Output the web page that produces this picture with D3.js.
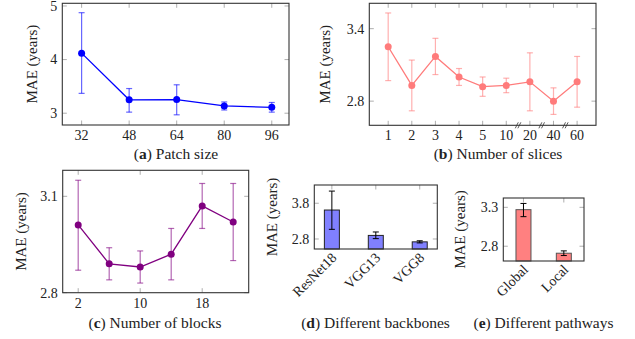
<!DOCTYPE html>
<html>
<head>
<meta charset="utf-8">
<script src="https://cdn.jsdelivr.net/npm/d3@7"></script>
<style>
  body { margin: 0; background: #fff; }
</style>
</head>
<body>
<div id="chart"></div>
<script>
// (a) patch size
const patchSizes = [32, 48, 64, 80, 96];
const patchMae = [4.12, 3.25, 3.255, 3.135, 3.11];
const patchLo = [3.37, 3.02, 2.97, 3.06, 3.02];
const patchHi = [4.875, 3.46, 3.53, 3.21, 3.2];

// (b) number of slices (categorical axis)
const sliceLabels = ['1', '2', '3', '4', '5', '10', '20', '40', '60'];
const sliceMae = [3.25, 2.93, 3.17, 3.0, 2.92, 2.93, 2.96, 2.80, 2.96];
const sliceLo = [2.97, 2.72, 3.02, 2.93, 2.84, 2.87, 2.72, 2.69, 2.75];
const sliceHi = [3.53, 3.14, 3.32, 3.07, 3.0, 2.99, 3.2, 2.91, 3.17];

// (c) number of blocks
const blocks = [2, 6, 10, 14, 18, 22];
const blockMae = [3.011, 2.89, 2.88, 2.92, 3.07, 3.02];
const blockLo = [2.87, 2.84, 2.83, 2.84, 3.0, 2.9];
const blockHi = [3.15, 2.94, 2.93, 3.0, 3.14, 3.14];

// (d) backbones
const backbones = ['ResNet18', 'VGG13', 'VGG8'];
const backboneMae = [3.61, 2.90, 2.72];
const backboneLo = [3.07, 2.81, 2.69];
const backboneHi = [4.14, 2.996, 2.75];

// (e) pathways
const pathways = ['Global', 'Local'];
const pathwayMae = [3.27, 2.71];
const pathwayLo = [3.18, 2.68];
const pathwayHi = [3.35, 2.74];

const FONT = "'Liberation Serif', 'DejaVu Serif', serif";
const W = 635, H = 339;
const svg = d3.select('#chart').append('svg')
  .attr('width', W).attr('height', H)
  .style('display', 'block');

function makeAxes(cfg) {
  const x = d3.scaleLinear().domain(cfg.xDomain).range([cfg.x0, cfg.x1]);
  const y = d3.scaleLinear().domain(cfg.yDomain).range([cfg.y1, cfg.y0]);
  const g = svg.append('g').attr('font-family', FONT);
  const tickLen = 4.5;

  // ticks on all four sides, pointing inward
  const ticks = g.append('g').attr('stroke', '#999').attr('stroke-width', 0.8);
  cfg.xTicks.forEach(v => {
    ticks.append('line').attr('x1', x(v)).attr('x2', x(v)).attr('y1', cfg.y1).attr('y2', cfg.y1 - tickLen);
    ticks.append('line').attr('x1', x(v)).attr('x2', x(v)).attr('y1', cfg.y0).attr('y2', cfg.y0 + tickLen);
  });
  cfg.yTicks.forEach(v => {
    ticks.append('line').attr('x1', cfg.x0).attr('x2', cfg.x0 + tickLen).attr('y1', y(v)).attr('y2', y(v));
    ticks.append('line').attr('x1', cfg.x1).attr('x2', cfg.x1 - tickLen).attr('y1', y(v)).attr('y2', y(v));
  });

  // tick labels
  g.selectAll('.yl').data(cfg.yTicks).enter().append('text')
    .attr('font-family', FONT)
    .attr('x', cfg.x0 - 5).attr('y', d => y(d))
    .attr('dy', '0.35em').attr('text-anchor', 'end')
    .attr('font-size', 14).attr('fill', '#222')
    .text(d => d3.format(cfg.yFmt || '')(d));

  if (cfg.rotLabels) {
    g.selectAll('.xl').data(cfg.xTicks).enter().append('text')
      .attr('font-family', FONT)
      .attr('transform', d => `translate(${x(d) + 2},${cfg.y1 + 6}) rotate(-45)`)
      .attr('text-anchor', 'end').attr('dy', '0.35em')
      .attr('font-size', 14).attr('fill', '#222')
      .text((d, i) => cfg.xLabels[i]);
  } else {
    g.selectAll('.xl').data(cfg.xTicks).enter().append('text')
      .attr('font-family', FONT)
      .attr('x', d => x(d)).attr('y', cfg.y1 + 15)
      .attr('text-anchor', 'middle')
      .attr('font-size', 14).attr('fill', '#222')
      .text((d, i) => cfg.xLabels ? cfg.xLabels[i] : d);
  }

  // y axis label
  g.append('text')
    .attr('font-family', FONT)
    .attr('transform', `translate(${cfg.labelX},${(cfg.y0 + cfg.y1) / 2}) rotate(-90)`)
    .attr('text-anchor', 'middle').attr('dy', '0.35em')
    .attr('font-size', 15).attr('fill', '#222')
    .text('MAE (years)');

  // caption
  const cap = g.append('text')
    .attr('font-family', FONT)
    .attr('x', cfg.capX).attr('y', cfg.capY)
    .attr('text-anchor', 'middle').attr('font-size', 15.5).attr('fill', '#222');
  cap.append('tspan').text('(');
  cap.append('tspan').attr('font-weight', 'bold').text(cfg.capLetter);
  cap.append('tspan').text(') ' + cfg.caption);

  return { x, y, g, cfg };
}

function drawFrame(ax) {
  const c = ax.cfg;
  svg.append('rect')
    .attr('x', c.x0).attr('y', c.y0)
    .attr('width', c.x1 - c.x0).attr('height', c.y1 - c.y0)
    .attr('fill', 'none').attr('stroke', '#333').attr('stroke-width', 1.1);
}

function drawLine(ax, xs, mean, lo, hi, color) {
  const { x, y } = ax;
  const pts = xs.map((v, i) => ({ x: v, m: mean[i], lo: lo[i], hi: hi[i] }));
  const eb = ax.g.append('g').attr('stroke', color).attr('stroke-opacity', 0.6).attr('stroke-width', 1.2);
  pts.forEach(p => {
    eb.append('line').attr('x1', x(p.x)).attr('x2', x(p.x)).attr('y1', y(p.lo)).attr('y2', y(p.hi));
    eb.append('line').attr('x1', x(p.x) - 3).attr('x2', x(p.x) + 3).attr('y1', y(p.lo)).attr('y2', y(p.lo));
    eb.append('line').attr('x1', x(p.x) - 3).attr('x2', x(p.x) + 3).attr('y1', y(p.hi)).attr('y2', y(p.hi));
  });
  ax.g.append('path').datum(pts)
    .attr('fill', 'none').attr('stroke', color).attr('stroke-width', 1.3)
    .attr('d', d3.line().x(d => x(d.x)).y(d => y(d.m)));
  ax.g.selectAll('.pt').data(pts).enter().append('circle')
    .attr('cx', d => x(d.x)).attr('cy', d => y(d.m)).attr('r', 3.5)
    .attr('fill', color);
}

function drawBars(ax, n, mean, lo, hi, color, stroke) {
  const { x, y } = ax;
  const bw = 15;
  const base = ax.cfg.y1;
  d3.range(n).forEach(i => {
    ax.g.append('rect')
      .attr('x', x(i) - bw / 2).attr('y', y(mean[i]))
      .attr('width', bw).attr('height', base - y(mean[i]))
      .attr('fill', color).attr('stroke', stroke).attr('stroke-width', 1);
    const eb = ax.g.append('g').attr('stroke', '#000').attr('stroke-width', 1);
    eb.append('line').attr('x1', x(i)).attr('x2', x(i)).attr('y1', y(lo[i])).attr('y2', y(hi[i]));
    eb.append('line').attr('x1', x(i) - 3).attr('x2', x(i) + 3).attr('y1', y(lo[i])).attr('y2', y(lo[i]));
    eb.append('line').attr('x1', x(i) - 3).attr('x2', x(i) + 3).attr('y1', y(hi[i])).attr('y2', y(hi[i]));
  });
}

// (a)
const axA = makeAxes({
  x0: 62.3, x1: 289, y0: 3.3, y1: 125,
  xDomain: [25.5, 101.8], yDomain: [2.78, 5.05],
  xTicks: patchSizes, yTicks: [3, 4, 5],
  labelX: 32, capX: 176, capY: 159, capLetter: 'a', caption: 'Patch size'
});
drawLine(axA, patchSizes, patchMae, patchLo, patchHi, '#0000ff');
drawFrame(axA);

// (b)
const sliceIdx = d3.range(sliceLabels.length);
const axB = makeAxes({
  x0: 369.3, x1: 596, y0: 3.3, y1: 125.3,
  xDomain: [-0.8, 8.8], yDomain: [2.60, 3.61],
  xTicks: sliceIdx, xLabels: sliceLabels, yTicks: [2.8, 3.4], yFmt: '.1f',
  labelX: 325, capX: 498, capY: 159, capLetter: 'b', caption: 'Number of slices'
});
drawLine(axB, sliceIdx, sliceMae, sliceLo, sliceHi, '#ff7b7b');
drawFrame(axB);
// axis break marks between 10|20, 20|40, 40|60
const brk = axB.g.append('g').attr('stroke', '#333').attr('stroke-width', 0.8);
[5.5, 6.5, 7.5].forEach(v => {
  const cx = axB.x(v), cy = axB.cfg.y1;
  [-1.3, 1.3].forEach(o => {
    brk.append('line')
      .attr('x1', cx + o - 1.5).attr('y1', cy + 3)
      .attr('x2', cx + o + 1.5).attr('y2', cy - 3);
  });
});

// (c)
const axC = makeAxes({
  x0: 62.7, x1: 248.7, y0: 170.3, y1: 292.7,
  xDomain: [0, 24], yDomain: [2.8, 3.181],
  xTicks: [2, 10, 18], yTicks: [2.8, 3.1], yFmt: '.1f',
  labelX: 21, capX: 155, capY: 328, capLetter: 'c', caption: 'Number of blocks'
});
drawLine(axC, blocks, blockMae, blockLo, blockHi, '#800080');
drawFrame(axC);

// (d)
const axD = makeAxes({
  x0: 314.3, x1: 437.3, y0: 185, y1: 249,
  xDomain: [-0.4, 2.4], yDomain: [2.52, 4.31],
  xTicks: d3.range(backbones.length), xLabels: backbones, rotLabels: true,
  yTicks: [2.8, 3.8], yFmt: '.1f',
  labelX: 272, capX: 375.5, capY: 328, capLetter: 'd', caption: 'Different backbones'
});
drawBars(axD, backbones.length, backboneMae, backboneLo, backboneHi, '#8080ff', '#222');
drawFrame(axD);

// (e)
const axE = makeAxes({
  x0: 503.3, x1: 584, y0: 198, y1: 261,
  xDomain: [-0.5, 1.5], yDomain: [2.61, 3.42],
  xTicks: d3.range(pathways.length), xLabels: pathways, rotLabels: true,
  yTicks: [2.8, 3.3], yFmt: '.1f',
  labelX: 460, capX: 543.5, capY: 328, capLetter: 'e', caption: 'Different pathways'
});
drawBars(axE, pathways.length, pathwayMae, pathwayLo, pathwayHi, '#ff8080', '#555');
drawFrame(axE);
</script>
</body>
</html>
